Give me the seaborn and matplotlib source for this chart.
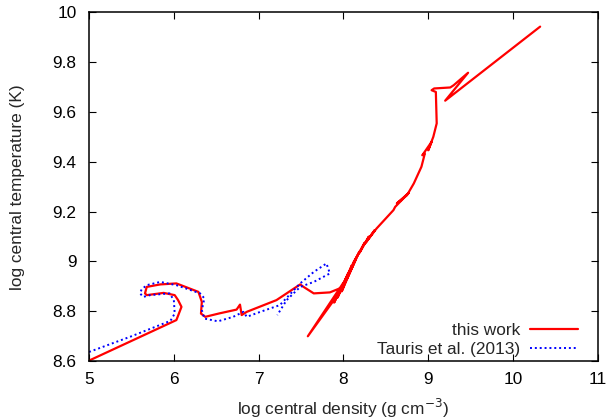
import matplotlib
matplotlib.use("Agg")
import matplotlib.pyplot as plt
import seaborn as sns
import pandas as pd

# "this work" track: log central density, log central temperature
red_rho = [5.01, 6.03, 6.09, 6.05, 6.01, 5.88, 5.68, 5.66, 5.68, 5.84, 6.03, 6.29, 6.33, 6.32,
           6.37, 6.54, 6.74, 6.78, 6.80, 6.86, 7.21, 7.49, 7.53, 7.65, 7.84, 8.00,
           7.58, 8.00, 7.89, 8.06, 7.93, 8.10, 7.98, 8.14, 8.04, 8.19, 8.11, 8.25, 8.19, 8.30,
           8.25, 8.37, 8.27, 8.39,
           8.59, 8.61, 8.77, 8.63, 8.75, 8.83, 8.92, 8.96, 8.93, 9.04, 9.00, 9.06, 9.10,
           9.09, 9.04, 9.07, 9.26, 9.30, 9.47, 9.20, 10.32]
red_T = [8.604, 8.765, 8.818, 8.845, 8.865, 8.874, 8.865, 8.872, 8.898, 8.908, 8.912, 8.878, 8.838, 8.791,
         8.778, 8.792, 8.807, 8.827, 8.785, 8.798, 8.845, 8.908, 8.898, 8.872, 8.876, 8.898,
         8.700, 8.915, 8.835, 8.955, 8.855, 8.985, 8.880, 9.005, 8.930, 9.040, 8.990, 9.075, 9.035, 9.100,
         9.070, 9.126, 9.079, 9.132,
         9.206, 9.219, 9.275, 9.233, 9.266, 9.313, 9.380, 9.433, 9.426, 9.480, 9.446, 9.500, 9.554,
         9.680, 9.687, 9.694, 9.698, 9.707, 9.757, 9.645, 9.942]

# Tauris et al. (2013) track
blue_rho = [5.00, 5.50, 5.96, 6.01, 6.00, 5.95, 5.72, 5.64, 5.60, 5.62, 5.68, 5.84, 6.03, 6.31,
            6.36, 6.33, 6.36, 6.52, 6.70, 6.82, 6.86, 7.02, 7.25, 7.49, 7.65, 7.80,
            7.84, 7.65, 7.49, 7.33, 7.22]
blue_T = [8.637, 8.700, 8.762, 8.791, 8.845, 8.872, 8.865, 8.858, 8.872, 8.888, 8.905, 8.918, 8.905, 8.872,
          8.852, 8.805, 8.771, 8.760, 8.778, 8.798, 8.778, 8.798, 8.825, 8.912, 8.958, 8.992,
          8.952, 8.918, 8.898, 8.845, 8.785]

x_ticks = [5, 6, 7, 8, 9, 10, 11]
y_ticks = [8.6, 8.8, 9.0, 9.2, 9.4, 9.6, 9.8, 10.0]

sns.set_theme(style="ticks")
plt.rcParams['font.family'] = ['Liberation Sans', 'DejaVu Sans']
FS = 12.4

fig = plt.figure(figsize=(6.1, 4.2), dpi=100)
ax = fig.add_axes([0.146, 0.140, 0.834, 0.831])

df_red = pd.DataFrame({"rho": red_rho, "T": red_T})
df_blue = pd.DataFrame({"rho": blue_rho, "T": blue_T})

sns.lineplot(data=df_red, x="rho", y="T", sort=False, estimator=None, ax=ax,
             color="#ff0000", linewidth=1.6, label="this work")
sns.lineplot(data=df_blue, x="rho", y="T", sort=False, estimator=None, ax=ax,
             color="#0000ff", linewidth=1.4, linestyle=(0, (1, 1.5)),
             label="Tauris et al. (2013)")

ax.set_xlim(5, 11)
ax.set_ylim(8.6, 10)
ax.set_xticks(x_ticks)
ax.set_xticklabels([f"{v:g}" for v in x_ticks])
ax.set_yticks(y_ticks)
ax.set_yticklabels([f"{v:g}" for v in y_ticks])
ax.tick_params(direction="in", top=True, right=True, length=5, width=0.8,
               labelsize=FS, colors="black")
ax.tick_params(axis="x", pad=8)
ax.tick_params(axis="y", pad=9)
for s in ax.spines.values():
    s.set_color("black")
    s.set_linewidth(1.1)

ax.set_xlabel("log central density (g cm$^{-3}$)", fontsize=FS, labelpad=7)
ax.set_ylabel("log central temperature (K)", fontsize=FS, labelpad=20)

leg = ax.legend(loc="lower right", bbox_to_anchor=(0.962, 0.012), frameon=False,
                markerfirst=False, fontsize=FS, handlelength=2.8, borderaxespad=0,
                borderpad=0, labelspacing=0.25, handletextpad=0.6)

fig.savefig("out.png", dpi=100)
